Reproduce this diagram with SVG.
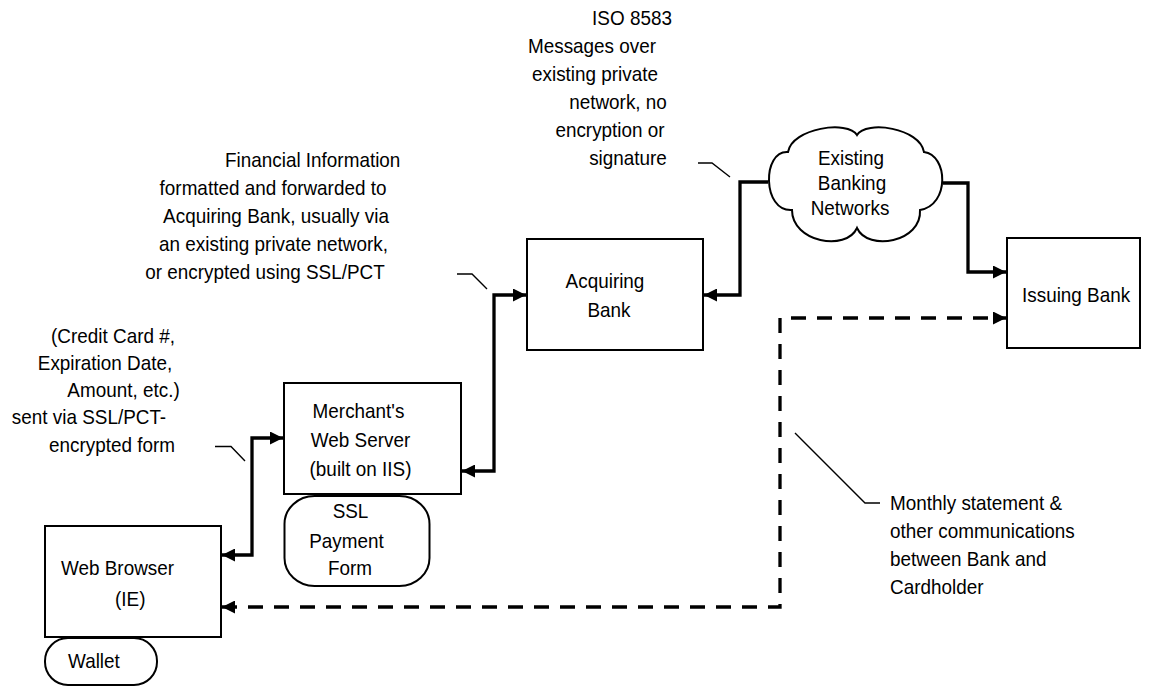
<svg xmlns="http://www.w3.org/2000/svg" width="1172" height="687" viewBox="0 0 1172 687">
<style>
  .box{fill:#fff;stroke:#000;stroke-width:2}
  .t{font-family:"Liberation Sans",Arial,Helvetica,sans-serif;font-size:21px;fill:#000}
  .m{text-anchor:middle}
  .e{text-anchor:end}
  .conn{fill:none;stroke:#000;stroke-width:3.3;stroke-linejoin:miter}
  .dash{stroke-dasharray:15 11}
  .call{fill:none;stroke:#000;stroke-width:1.4}
</style>
<defs>
  <marker id="ah" viewBox="0 0 10 10" refX="10" refY="5" markerUnits="userSpaceOnUse" markerWidth="18" markerHeight="13" orient="auto-start-reverse">
    <path d="M0,0 L10,5 L0,10 z" fill="#000"/>
  </marker>
</defs>
<rect width="1172" height="687" fill="#fff"/>

<g id="connectors">
  <path class="conn" d="M222,555 H252 V438 H283" marker-start="url(#ah)" marker-end="url(#ah)"/>
  <path class="conn" d="M462,471 H494 V295 H526" marker-start="url(#ah)" marker-end="url(#ah)"/>
  <path class="conn" d="M704,295 H740 V182 H768" marker-start="url(#ah)"/>
  <path class="conn" d="M943,183 H968 V272 H1006" marker-end="url(#ah)"/>
  <path class="conn dash" d="M222,607 H780 V318 H1006" marker-start="url(#ah)" marker-end="url(#ah)"/>
  <polyline class="call" points="698,163 712,163 730,177"/>
  <polyline class="call" points="457,274 472,274 487,289"/>
  <polyline class="call" points="215,446.5 231,446.5 245,461"/>
  <polyline class="call" points="880,503 865,503 795,433"/>
</g>

<g id="acquiring-bank">
  <rect class="box" x="527" y="239" width="176" height="111"/>
  <text class="t m" transform="translate(605,288) scale(0.9,1)">Acquiring</text>
  <text class="t m" transform="translate(609,317) scale(0.9,1)">Bank</text>
</g>

<g id="issuing-bank">
  <rect class="box" x="1007" y="238" width="133" height="110"/>
  <text class="t" transform="translate(1022,302) scale(0.9,1)">Issuing Bank</text>
</g>

<g id="banking-networks">
  <path class="box" d="M788,152 C792,128 848,120 857,135 C866,120 920,128 924,152 C948,155 950,205 920,210 C922,242 868,252 857,228 C846,252 792,242 792,210 C762,212 762,150 788,152 Z"/>
  <text class="t m" transform="translate(851,165) scale(0.9,1)">Existing</text>
  <text class="t m" transform="translate(852,190) scale(0.9,1)">Banking</text>
  <text class="t m" transform="translate(850,215) scale(0.9,1)">Networks</text>
</g>

<g id="merchant-server">
  <rect class="box" x="284" y="383" width="177" height="111"/>
  <text class="t m" transform="translate(358.5,418) scale(0.9,1)">Merchant's</text>
  <text class="t m" transform="translate(360.5,446.5) scale(0.9,1)">Web Server</text>
  <text class="t m" transform="translate(360.5,475.5) scale(0.9,1)">(built on IIS)</text>
</g>

<g id="ssl-payment-form">
  <rect class="box" x="284.5" y="496" width="145" height="90" rx="30" ry="28"/>
  <text class="t m" transform="translate(350.5,518) scale(0.9,1)">SSL</text>
  <text class="t m" transform="translate(346.5,547.5) scale(0.9,1)">Payment</text>
  <text class="t m" transform="translate(350,575) scale(0.9,1)">Form</text>
</g>

<g id="web-browser">
  <rect class="box" x="45" y="526" width="176" height="111"/>
  <text class="t" transform="translate(61,575) scale(0.9,1)">Web Browser</text>
  <text class="t" transform="translate(115,606) scale(0.9,1)">(IE)</text>
</g>

<g id="wallet">
  <rect class="box" x="45" y="638" width="112" height="47" rx="23" ry="23"/>
  <text class="t" transform="translate(68,668) scale(0.9,1)">Wallet</text>
</g>

<g id="label-iso">
  <text class="t m" transform="translate(632,25) scale(0.9,1)">ISO 8583</text>
  <text class="t m" transform="translate(592,53) scale(0.9,1)">Messages over</text>
  <text class="t m" transform="translate(595,81) scale(0.9,1)">existing private</text>
  <text class="t m" transform="translate(618,109) scale(0.9,1)">network, no</text>
  <text class="t m" transform="translate(610,137) scale(0.9,1)">encryption or</text>
  <text class="t m" transform="translate(628,165) scale(0.9,1)">signature</text>
</g>

<g id="label-financial">
  <text class="t" transform="translate(225,167) scale(0.9,1)">Financial Information</text>
  <text class="t m" transform="translate(273,195) scale(0.9,1)">formatted and forwarded to</text>
  <text class="t m" transform="translate(276,223) scale(0.9,1)">Acquiring Bank, usually via</text>
  <text class="t m" transform="translate(273.5,251) scale(0.9,1)">an existing private network,</text>
  <text class="t m" transform="translate(265,279) scale(0.9,1)">or encrypted using SSL/PCT</text>
</g>

<g id="label-credit">
  <text class="t m" transform="translate(113,342.5) scale(0.9,1)">(Credit Card #,</text>
  <text class="t m" transform="translate(105,370) scale(0.9,1)">Expiration Date,</text>
  <text class="t m" transform="translate(123.5,397) scale(0.9,1)">Amount, etc.)</text>
  <text class="t m" transform="translate(89,424) scale(0.9,1)">sent via SSL/PCT-</text>
  <text class="t m" transform="translate(112,451.5) scale(0.9,1)">encrypted form</text>
</g>

<g id="label-monthly">
  <text class="t" transform="translate(890,510) scale(0.9,1)">Monthly statement &amp;</text>
  <text class="t" transform="translate(890,538) scale(0.9,1)">other communications</text>
  <text class="t" transform="translate(890,566) scale(0.9,1)">between Bank and</text>
  <text class="t" transform="translate(890,594) scale(0.9,1)">Cardholder</text>
</g>
</svg>
